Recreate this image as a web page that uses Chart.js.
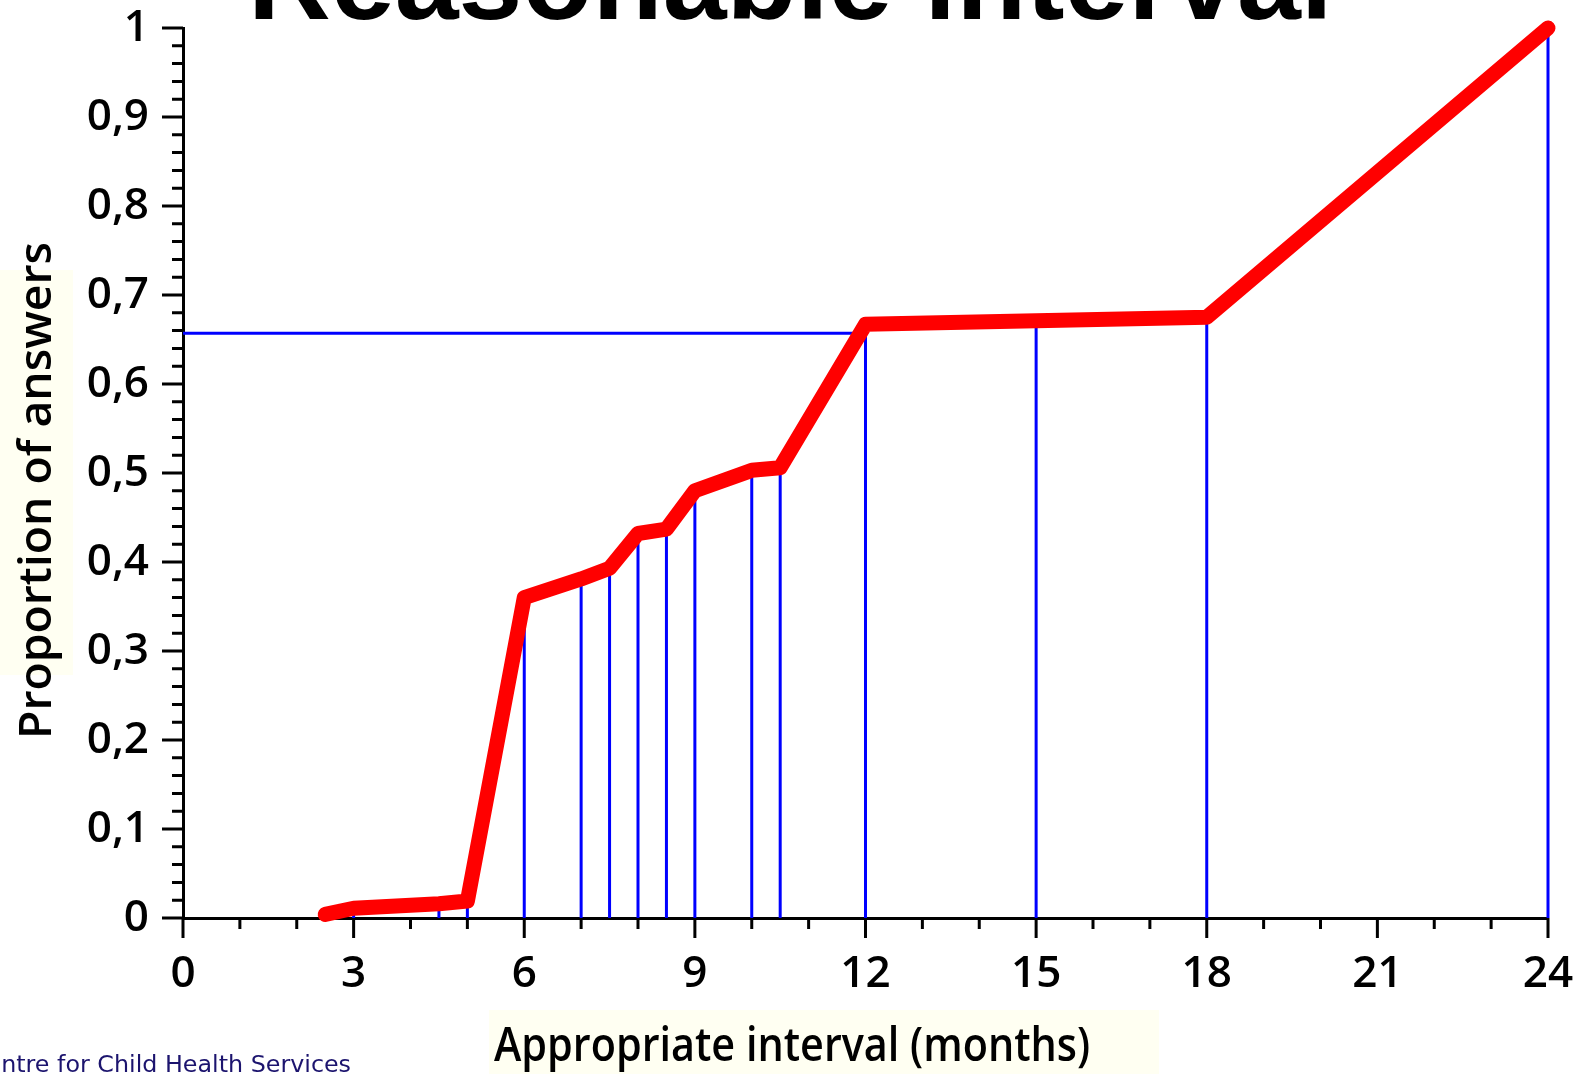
<!DOCTYPE html>
<html>
<head>
<meta charset="utf-8">
<title>Reasonable interval</title>
<script src="https://cdn.jsdelivr.net/npm/chart.js@4.4.1/dist/chart.umd.min.js"></script>
<style>
  html, body { margin: 0; padding: 0; background: #fff; overflow: hidden; }
  #chart { display: block; }
</style>
</head>
<body>
<canvas id="chart" width="1583" height="1074"></canvas>
<script>
// values
const months = [2.5, 3, 4.5, 5, 6, 7, 7.5, 8, 8.5, 9, 10, 10.5, 12, 15, 18, 24];
const proportions = [0.004, 0.011, 0.016, 0.019, 0.360, 0.381, 0.393, 0.432, 0.437, 0.480, 0.503, 0.506, 0.667, 0.671, 0.675, 1.0];
// horizontal reference line (proportion reached at 12 months)
const refMonths = [0, 12];
const refLevel = [0.657, 0.657];
// tick labels
const xTickValues = [0, 3, 6, 9, 12, 15, 18, 21, 24];
const yTickLabels = ['0', '0,1', '0,2', '0,3', '0,4', '0,5', '0,6', '0,7', '0,8', '0,9', '1'];

const titleText = 'Reasonable interval';
const xTitleText = 'Appropriate interval (months)';
const yTitleText = 'Proportion of answers';
const footerText = 'Centre for Child Health Services';

const RED = '#ff0000';
const BLUE = '#0000ff';
const CREAM = '#fffff2';
const LABEL_FONT = '"Open Sans", "Noto Sans", sans-serif';

// text helper: draw text squeezed/stretched to a target width
function fitText(ctx, text, x, y, width) {
  const w = ctx.measureText(text).width;
  ctx.save();
  ctx.translate(x, y);
  ctx.scale(width / w, 1);
  ctx.fillText(text, 0, 0);
  ctx.restore();
}

// keep tick labels from pushing the plot area around
function noPad(s) {
  s.paddingTop = 0;
  s.paddingBottom = 0;
  s.paddingLeft = 0;
  s.paddingRight = 0;
}

const decor = {
  id: 'decor',
  beforeDraw(chart) {
    const ctx = chart.ctx;
    ctx.save();
    ctx.fillStyle = '#ffffff';
    ctx.fillRect(0, 0, chart.width, chart.height);
    // light boxes behind the axis titles
    ctx.fillStyle = CREAM;
    ctx.fillRect(489, 1010, 670, 64);
    ctx.fillRect(0, 270, 73, 405);
    ctx.restore();
  },
  beforeDatasetsDraw(chart) {
    // blue drop lines from each point down to the x axis
    const { ctx, scales: { x, y } } = chart;
    ctx.save();
    ctx.strokeStyle = BLUE;
    ctx.lineWidth = 3;
    ctx.beginPath();
    months.forEach((m, i) => {
      const px = x.getPixelForValue(m);
      ctx.moveTo(px, y.getPixelForValue(0));
      ctx.lineTo(px, y.getPixelForValue(proportions[i]));
    });
    ctx.stroke();
    ctx.restore();
  },
  afterDraw(chart) {
    const { ctx, scales: { x, y } } = chart;
    ctx.save();
    // major / minor tick marks
    ctx.strokeStyle = '#000';
    ctx.lineWidth = 3;
    ctx.beginPath();
    const y0 = y.getPixelForValue(0);
    for (let m = 0; m <= 24; m++) {
      const px = x.getPixelForValue(m);
      ctx.moveTo(px, y0);
      ctx.lineTo(px, y0 + (m % 3 === 0 ? 20 : 11));
    }
    const x0 = x.getPixelForValue(0);
    for (let k = 0; k <= 50; k++) {
      const py = y.getPixelForValue(k / 50);
      ctx.moveTo(x0, py);
      ctx.lineTo(x0 - (k % 5 === 0 ? 21 : 11), py);
    }
    ctx.stroke();

    // big title, mostly above the top edge
    ctx.fillStyle = '#000';
    ctx.textBaseline = 'alphabetic';
    ctx.textAlign = 'left';
    ctx.font = 'bold 100px "Liberation Sans", Arial, sans-serif';
    const tw = ctx.measureText(titleText).width;
    ctx.font = 'bold ' + (100 * 1085 / tw).toFixed(1) + 'px "Liberation Sans", Arial, sans-serif';
    ctx.fillText(titleText, 248, 19);

    // x axis title
    ctx.font = '600 47px ' + LABEL_FONT;
    fitText(ctx, xTitleText, 494, 1061, 596);

    // y axis title
    ctx.save();
    ctx.translate(51, 739);
    ctx.rotate(-Math.PI / 2);
    ctx.font = '600 46px ' + LABEL_FONT;
    fitText(ctx, yTitleText, 0, 0, 497);
    ctx.restore();

    // footer, cut off at the left edge
    ctx.fillStyle = '#1c146e';
    ctx.font = '20px "DejaVu Sans", sans-serif';
    const fw = ctx.measureText('ntre for Child Health Services').width;
    ctx.font = (20 * 350 / fw).toFixed(1) + 'px "DejaVu Sans", sans-serif';
    ctx.textAlign = 'right';
    ctx.fillText(footerText, 351, 1072);
    ctx.restore();
  }
};

const ctx = document.getElementById('chart').getContext('2d');
const chart = new Chart(ctx, {
  type: 'scatter',
  data: {
    datasets: [
      {
        label: 'Proportion of answers',
        data: months.map((m, i) => ({ x: m, y: proportions[i] })),
        showLine: true,
        borderColor: RED,
        backgroundColor: RED,
        borderWidth: 15,
        borderJoinStyle: 'round',
        borderCapStyle: 'round',
        pointRadius: 0,
        pointHoverRadius: 0,
        tension: 0,
        clip: false,
        order: 1
      },
      {
        label: '12 months',
        data: refMonths.map((m, i) => ({ x: m, y: refLevel[i] })),
        showLine: true,
        borderColor: BLUE,
        borderWidth: 3,
        pointRadius: 0,
        tension: 0,
        order: 2
      }
    ]
  },
  options: {
    responsive: false,
    devicePixelRatio: 1,
    animation: false,
    events: [],
    layout: { padding: { top: 28, right: 35, left: 0, bottom: 0 } },
    plugins: {
      legend: { display: false },
      title: { display: false },
      tooltip: { enabled: false }
    },
    scales: {
      x: {
        type: 'linear',
        min: 0,
        max: 24,
        afterFit: s => { s.height = 156; noPad(s); },
        afterBuildTicks: s => { s.ticks = xTickValues.map(v => ({ value: v })); },
        grid: { display: false, drawTicks: false },
        border: { display: true, color: '#000', width: 3 },
        ticks: {
          color: '#000',
          padding: 30,
          maxRotation: 0,
          autoSkip: false,
          font: { family: LABEL_FONT, size: 44, weight: '600' },
          callback: v => String(v)
        }
      },
      y: {
        type: 'linear',
        min: 0,
        max: 1,
        afterFit: s => { s.width = 183; noPad(s); },
        grid: { display: false, drawTicks: false },
        border: { display: true, color: '#000', width: 3 },
        ticks: {
          stepSize: 0.1,
          color: '#000',
          padding: 34,
          autoSkip: false,
          font: { family: LABEL_FONT, size: 44, weight: '600' },
          callback: v => yTickLabels[Math.round(v * 10)]
        }
      }
    }
  },
  plugins: [decor]
});
</script>
</body>
</html>
